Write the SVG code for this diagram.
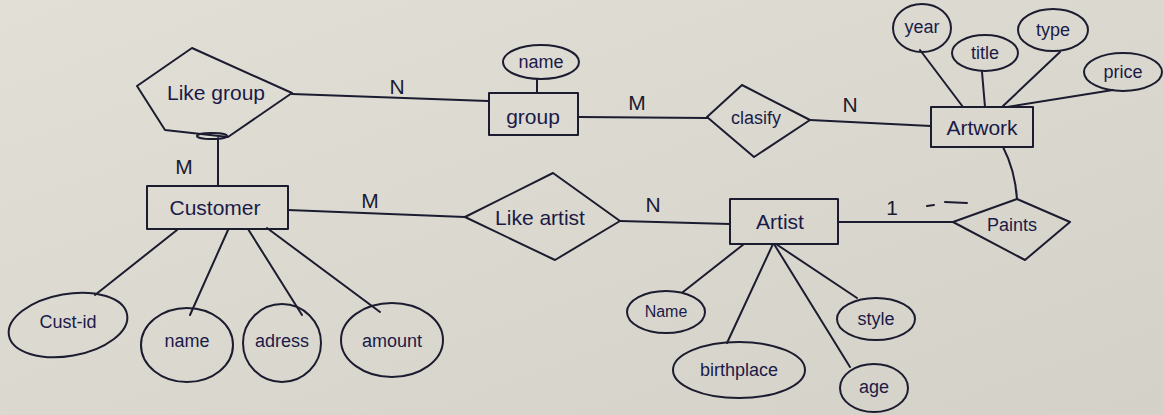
<svg xmlns="http://www.w3.org/2000/svg" width="1164" height="415" viewBox="0 0 1164 415">
<style>
.s{fill:none;stroke:#1c1c30;stroke-width:2;stroke-linejoin:round;stroke-linecap:round}
.t{font-family:"Liberation Sans","DejaVu Sans",sans-serif;fill:#1a1a48;text-anchor:middle;dominant-baseline:central}
.big{font-size:21px}
.mid{font-size:18px}
.sm{font-size:16px}
.lbl{font-family:"Liberation Sans",sans-serif;font-size:21px;fill:#1a1a30;text-anchor:middle;dominant-baseline:central}
</style>
<defs>
<linearGradient id="bg" x1="0" y1="0" x2="1" y2="1">
<stop offset="0" stop-color="#e2e0d6"/>
<stop offset="1" stop-color="#d4d2c8"/>
</linearGradient>
</defs>
<rect width="1164" height="415" fill="url(#bg)"/>

<g id="connectors" class="s">
<path d="M218 138 L218 186"/>
<path d="M292 94 L488 101"/>
<path d="M537 79 L537 93"/>
<path d="M578 117 L708 118"/>
<path d="M810 120 L931 126"/>
<path d="M920 50 L963 107"/>
<path d="M982 72 L985 107"/>
<path d="M1060 52 L1002 107"/>
<path d="M1113 90 L1007 107"/>
<path d="M1003 147 Q1015 170 1017 199"/>
<path d="M288 210 L465 217"/>
<path d="M620 221 L730 224"/>
<path d="M838 222 L953 222"/>
<path d="M177 230 L95 295"/>
<path d="M228 230 L190 315"/>
<path d="M248 229 L302 315"/>
<path d="M267 228 L380 312"/>
<path d="M744 244 L683 292"/>
<path d="M773 244 L727 343"/>
<path d="M776 244 L857 298"/>
<path d="M774 244 L850 367"/>
<path d="M927 206 L934 205"/>
<path d="M945 202 L967 203"/>
</g>

<g id="n_like_group">
<path class="s" d="M192 48 L292 93 L228 137 L165 130 L137 86 Z"/>
<ellipse class="s" cx="212" cy="136" rx="15" ry="3"/>
<text class="t big" x="216" y="92">Like group</text>
</g>
<text class="lbl" x="397" y="86">N</text>
<text class="lbl" x="184" y="166">M</text>

<g id="n_group">
<rect class="s" x="489" y="93" width="89" height="42"/>
<text class="t big" x="533" y="116">group</text>
</g>
<g id="a_group_name">
<ellipse class="s" cx="541" cy="62" rx="38" ry="17"/>
<text class="t mid" x="541" y="62">name</text>
</g>
<text class="lbl" x="637" y="102">M</text>

<g id="n_clasify">
<path class="s" d="M707 117 L742 85 L810 120 L754 157 Z"/>
<text class="t mid" x="756" y="118">clasify</text>
</g>
<text class="lbl" x="850" y="104">N</text>

<g id="n_artwork">
<rect class="s" x="931" y="107" width="102" height="40"/>
<text class="t big" x="982" y="127">Artwork</text>
</g>
<g id="a_year">
<ellipse class="s" cx="922" cy="28" rx="29" ry="24"/>
<text class="t mid" x="922" y="27">year</text>
</g>
<g id="a_title">
<ellipse class="s" cx="985" cy="53" rx="33" ry="18"/>
<text class="t mid" x="985" y="53">title</text>
</g>
<g id="a_type">
<ellipse class="s" cx="1053" cy="30" rx="35" ry="21"/>
<text class="t mid" x="1053" y="30">type</text>
</g>
<g id="a_price">
<ellipse class="s" cx="1123" cy="72" rx="39" ry="19"/>
<text class="t mid" x="1123" y="72">price</text>
</g>

<g id="n_customer">
<rect class="s" x="147" y="186" width="141" height="43"/>
<text class="t big" x="215" y="207">Customer</text>
</g>
<text class="lbl" x="370" y="200">M</text>

<g id="a_cust_id">
<ellipse class="s" cx="68" cy="325" rx="60" ry="31" transform="rotate(-10 68 325)"/>
<text class="t mid" x="68" y="322">Cust-id</text>
</g>
<g id="a_cust_name">
<ellipse class="s" cx="187" cy="345" rx="46" ry="37"/>
<text class="t mid" x="187" y="341">name</text>
</g>
<g id="a_adress">
<ellipse class="s" cx="282" cy="343" rx="39" ry="39"/>
<text class="t mid" x="282" y="341">adress</text>
</g>
<g id="a_amount">
<ellipse class="s" cx="392" cy="340" rx="51" ry="37"/>
<text class="t mid" x="392" y="341">amount</text>
</g>

<g id="n_like_artist">
<path class="s" d="M465 217 L553 173 L620 221 L555 260 Z"/>
<text class="t big" x="540" y="217">Like artist</text>
</g>
<text class="lbl" x="653" y="204">N</text>

<g id="n_artist">
<rect class="s" x="730" y="199" width="108" height="45"/>
<text class="t big" x="780" y="221">Artist</text>
</g>
<g id="a_artist_name">
<ellipse class="s" cx="666" cy="312" rx="39" ry="21"/>
<text class="t sm" x="666" y="311">Name</text>
</g>
<g id="a_birthplace">
<ellipse class="s" cx="739" cy="370" rx="66" ry="28"/>
<text class="t mid" x="739" y="370">birthplace</text>
</g>
<g id="a_style">
<ellipse class="s" cx="876" cy="319" rx="39" ry="21"/>
<text class="t mid" x="876" y="319">style</text>
</g>
<g id="a_age">
<ellipse class="s" cx="874" cy="388" rx="34" ry="24"/>
<text class="t mid" x="874" y="387">age</text>
</g>

<text class="lbl" x="892" y="207">1</text>

<g id="n_paints">
<path class="s" d="M953 222 L1017 199 L1070 222 L1025 260 Z"/>
<text class="t mid" x="1012" y="225">Paints</text>
</g>
</svg>
